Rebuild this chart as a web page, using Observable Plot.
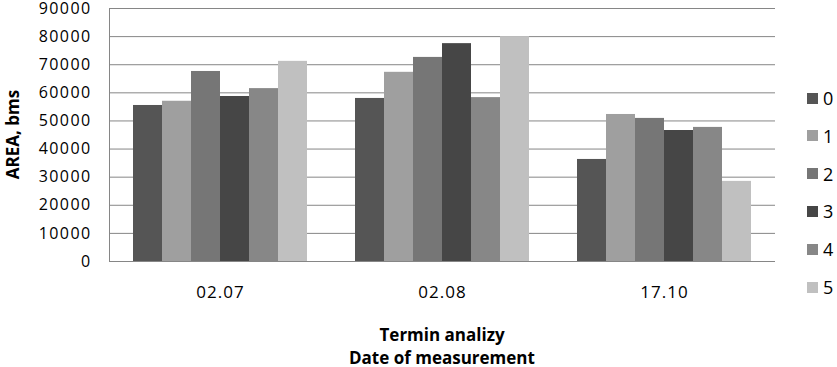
<!DOCTYPE html>
<html>
<head>
<meta charset="utf-8">
<script src="https://cdn.jsdelivr.net/npm/d3@7"></script>
<script src="https://cdn.jsdelivr.net/npm/@observablehq/plot@0.6"></script>
<style>
  html, body { margin: 0; padding: 0; background: #fff; }
  #wrap { position: relative; width: 837px; height: 367px; overflow: hidden; font-family: "Open Sans", sans-serif; color: #000; }
  #wrap svg text { fill: #000; }
  #wrap svg [aria-label^="y-axis"] text { font-size: 16px; letter-spacing: 1.4px; }
  #wrap svg [aria-label^="fx-axis"] text { font-size: 17px; letter-spacing: 1px; }
  .title { position: absolute; font-weight: bold; font-size: 17px; white-space: nowrap; line-height: 1; }
  .leg { position: absolute; font-size: 18px; line-height: 1; white-space: nowrap; }
  .sw { position: absolute; width: 11px; height: 11px; }
</style>
</head>
<body>
<div id="wrap"></div>
<script>
const dates = ["02.07", "02.08", "17.10"];
const series = ["0", "1", "2", "3", "4", "5"];
const s0 = [55500, 58000, 36300];
const s1 = [57000, 67300, 52300];
const s2 = [67600, 72600, 50900];
const s3 = [58700, 77500, 46600];
const s4 = [61500, 58300, 47700];
const s5 = [71200, 80000, 28500];
const seriesValues = [s0, s1, s2, s3, s4, s5];
const colors = ["#555555", "#9f9f9f", "#767676", "#464646", "#878787", "#c0c0c0"];
const yTicks = [0, 10000, 20000, 30000, 40000, 50000, 60000, 70000, 80000, 90000];
const xTitle1 = "Termin analizy";
const xTitle2 = "Date of measurement";
const yTitle = "AREA, bms";

const data = [];
series.forEach((s, i) => dates.forEach((d, j) => data.push({date: d, series: s, value: seriesValues[i][j]})));

const W = 837, H = 367, mL = 109, mR = 62, mT = 8, mB = 106;

const chart = Plot.plot({
  width: W, height: H,
  marginTop: mT, marginBottom: mB, marginLeft: mL, marginRight: mR,
  style: {color: "#868686", fontFamily: "Open Sans, sans-serif", background: "white", overflow: "visible"},
  fx: {domain: dates, padding: 0, label: null, tickSize: 0, tickPadding: 24, axis: "bottom"},
  x: {domain: series, paddingInner: 0, paddingOuter: 0.74, axis: null},
  y: {domain: [0, 90000], ticks: yTicks, tickSize: 0, tickPadding: 18, line: true, label: null, tickFormat: d => String(d)},
  color: {domain: series, range: colors},
  marks: [
    Plot.ruleY(yTicks, {stroke: "#868686", strokeWidth: 1}),
    Plot.barY(data, {fx: "date", x: "series", y: "value", fill: "series"})
  ]
});

const wrap = document.getElementById("wrap");
wrap.appendChild(chart);

const cx = mL + (W - mL - mR) / 2;
const t1 = document.createElement("div");
t1.className = "title"; t1.textContent = xTitle1;
wrap.appendChild(t1);
t1.style.left = (cx - t1.offsetWidth / 2) + "px";
t1.style.top = (334 - t1.offsetHeight / 2) + "px";

const t2 = document.createElement("div");
t2.className = "title"; t2.textContent = xTitle2;
wrap.appendChild(t2);
t2.style.left = (cx - t2.offsetWidth / 2) + "px";
t2.style.top = (357.5 - t2.offsetHeight / 2) + "px";

const ty = document.createElement("div");
ty.className = "title"; ty.textContent = yTitle;
wrap.appendChild(ty);
const cy = mT + (H - mT - mB) / 2;
ty.style.left = (12.5 - ty.offsetWidth / 2) + "px";
ty.style.top = (cy - ty.offsetHeight / 2) + "px";
ty.style.transform = "rotate(-90deg)";

series.forEach((s, i) => {
  const yc = 98 + 37.8 * i;
  const sw = document.createElement("div");
  sw.className = "sw";
  sw.style.background = colors[i];
  sw.style.left = "807px";
  sw.style.top = (yc - 5.5) + "px";
  wrap.appendChild(sw);
  const lb = document.createElement("div");
  lb.className = "leg"; lb.textContent = s;
  wrap.appendChild(lb);
  lb.style.left = "823px";
  lb.style.top = (yc - lb.offsetHeight / 2) + "px";
});
</script>
</body>
</html>
